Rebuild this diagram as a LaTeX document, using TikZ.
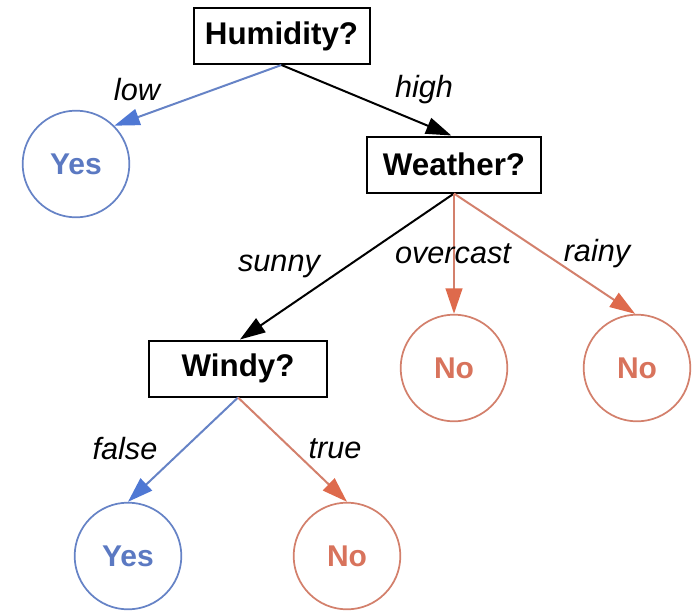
\documentclass[tikz,border=0pt]{standalone}
\usepackage{fontspec}
\setmainfont{Liberation Sans}
\usetikzlibrary{arrows.meta}
\definecolor{bluel}{HTML}{6683C6}
\definecolor{bluea}{HTML}{4F78D4}
\definecolor{bluet}{HTML}{5B79C2}
\definecolor{redl}{HTML}{D3806C}
\definecolor{reda}{HTML}{DE6A4C}
\definecolor{redt}{HTML}{D8735C}
\tikzset{
  qbox/.style={draw=black, line width=1.5pt, fill=white, minimum height=42pt, font=\fontsize{23.5}{26}\selectfont\bfseries, inner sep=0pt},
  leafyes/.style={circle, draw=bluel, line width=1.3pt, minimum size=80pt, inner sep=0pt, text=bluet, font=\fontsize{22.5}{25}\selectfont\bfseries},
  leafno/.style={circle, draw=redl, line width=1.3pt, minimum size=80pt, inner sep=0pt, text=redt, font=\fontsize{22.5}{25}\selectfont\bfseries},
  elab/.style={font=\fontsize{23}{26}\selectfont\itshape, inner sep=0pt},
  blkarrow/.style={draw=black, line width=1.5pt, -{Triangle[length=19pt,width=12.5pt]}},
  bluearrow/.style={draw=bluel, line width=1.5pt, -{Triangle[length=19pt,width=12.5pt,color=bluea,fill=bluea]}},
  redarrow/.style={draw=redl, line width=1.5pt, -{Triangle[length=19pt,width=12.5pt,color=reda,fill=reda]}}
}
\begin{document}
\begin{tikzpicture}[x=0.75pt,y=-0.75pt]
\useasboundingbox (0,0) rectangle (700,611);
\node[qbox, minimum width=132pt] (hum) at (281.5,36) {Humidity?};
\node[qbox, minimum width=130pt] (wea) at (454,164.5) {Weather?};
\node[qbox, minimum width=133pt] (win) at (238,368.5) {Windy?};
\node[leafyes] (yes1) at (76,164) {Yes};
\node[leafno] (no1) at (454,368) {No};
\node[leafno] (no2) at (637,368) {No};
\node[leafyes] (yes2) at (128,556) {Yes};
\node[leafno] (no3) at (347,556) {No};
\draw[bluearrow] (hum.south) -- (yes1.45);
\draw[blkarrow] (hum.south) -- ([xshift=-2pt]wea.north);
\draw[blkarrow] (wea.south) -- ([xshift=1.5pt]win.north);
\draw[redarrow] (wea.south) -- (no1.north);
\draw[redarrow] (wea.south) -- (no2.92);
\draw[bluearrow] (win.south) -- (yes2.north);
\draw[redarrow] (win.south) -- (no3.north);
\node[elab] (llow) at (137,90) {low};
\node[elab] (lhigh) at (424,90) {high};
\node[elab] (lsunny) at (279,266) {sunny};
\node[elab] (lover) at (453,254) {overcast};
\node[elab] (lrainy) at (597,254) {rainy};
\node[elab] (lfalse) at (125,449) {false};
\node[elab] (ltrue) at (335,449) {true};
\end{tikzpicture}
\end{document}
